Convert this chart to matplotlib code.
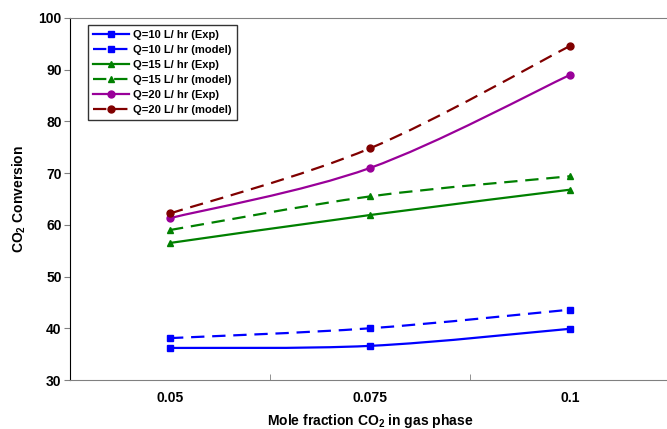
import numpy as np
import matplotlib.pyplot as plt
from matplotlib.path import Path
from matplotlib.patches import PathPatch
from matplotlib.lines import Line2D

plt.rcParams['font.family'] = ['Liberation Sans', 'DejaVu Sans']
plt.rcParams['font.weight'] = 'bold'
plt.rcParams['mathtext.fontset'] = 'custom'
plt.rcParams['mathtext.rm'] = 'Liberation Sans:bold'
plt.rcParams['mathtext.bf'] = 'Liberation Sans:bold'

# Dane
kategorie = ['0.05', '0.075', '0.1']
q10_exp = [36.2, 36.6, 39.9]
q10_model = [38.1, 40.0, 43.6]
q15_exp = [56.5, 61.9, 66.8]
q15_model = [59.0, 65.5, 69.4]
q20_exp = [61.3, 71.0, 89.0]
q20_model = [62.2, 74.8, 94.6]

serie = [
    ('Q=10 L/ hr (Exp)', q10_exp, '#0000FF', 's', '-'),
    ('Q=10 L/ hr (model)', q10_model, '#0000FF', 's', (0, (6, 3.5))),
    ('Q=15 L/ hr (Exp)', q15_exp, '#008000', '^', '-'),
    ('Q=15 L/ hr (model)', q15_model, '#008000', '^', (0, (6, 3.5))),
    ('Q=20 L/ hr (Exp)', q20_exp, '#990099', 'o', '-'),
    ('Q=20 L/ hr (model)', q20_model, '#800000', 'o', (0, (6, 3.5))),
]


# Wygładzona linia jak w Excelu (krzywe Beziera, Catmull-Rom)
def gladka_sciezka(x, y):
    p = np.column_stack([x, y]).astype(float)
    pp = np.vstack([p[0], p, p[-1]])
    wierzcholki = [p[0]]
    kody = [Path.MOVETO]
    for i in range(len(p) - 1):
        c1 = pp[i + 1] + (pp[i + 2] - pp[i]) / 6
        c2 = pp[i + 2] - (pp[i + 3] - pp[i + 1]) / 6
        wierzcholki += [c1, c2, pp[i + 2]]
        kody += [Path.CURVE4] * 3
    return Path(wierzcholki, kody)


fig = plt.figure(figsize=(6.67, 4.29), dpi=100)
ax = fig.add_axes([70 / 667, 1 - 380 / 429, 600 / 667, 362 / 429])

x = np.arange(len(kategorie))
uchwyty = []
for nazwa, wartosci, kolor, marker, styl in serie:
    ax.add_patch(PathPatch(gladka_sciezka(x, wartosci), fill=False,
                           edgecolor=kolor, linewidth=1.6, linestyle=styl))
    ax.plot(x, wartosci, linestyle='none', marker=marker, color=kolor,
            markersize=5)
    uchwyty.append(Line2D([], [], color=kolor, marker=marker, markersize=5,
                          linewidth=1.6, linestyle=styl, label=nazwa))

ax.set_xlim(-0.5, 2.5)
ax.set_ylim(30, 100)
ax.set_yticks(range(30, 101, 10))
ax.set_xticks(x)
ax.set_xticklabels(kategorie)
ax.set_xticks([0.5, 1.5], minor=True)
ax.tick_params(axis='x', which='major', length=0, pad=8, labelsize=10)
ax.tick_params(axis='x', which='minor', direction='in', length=4,
               color='#808080')
ax.tick_params(axis='y', direction='out', length=4, color='#808080',
               labelsize=10, pad=2)

for s in ['top', 'bottom']:
    ax.spines[s].set_color('#808080')
ax.spines['left'].set_color('black')
ax.spines['right'].set_visible(False)

ax.set_xlabel(r'Mole fraction CO$_\mathbf{2}$ in gas phase', fontsize=10,
              fontweight='bold', labelpad=5)
ax.set_ylabel(r'CO$_\mathbf{2}$ Conversion', fontsize=10, fontweight='bold')
ax.yaxis.set_label_coords(-42 / 600, 0.5)

leg = ax.legend(handles=uchwyty, loc='upper left',
                bbox_to_anchor=(18 / 600, 1 - 7 / 362), fontsize=8,
                frameon=True, fancybox=False, edgecolor='black',
                handlelength=3.2, handletextpad=0.4, borderpad=0.45,
                labelspacing=0.45, borderaxespad=0)
leg.get_frame().set_linewidth(1.0)
for t in leg.get_texts():
    t.set_fontweight('bold')

fig.savefig('out.png', dpi=100)
